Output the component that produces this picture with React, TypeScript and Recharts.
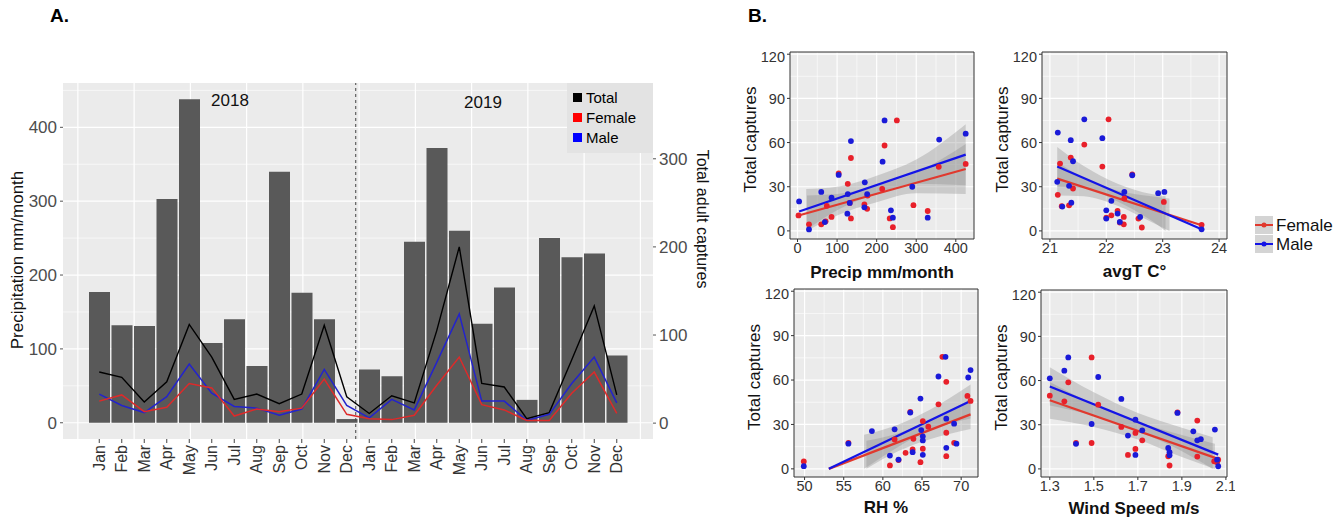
import {
  Area,
  Bar,
  CartesianGrid,
  ComposedChart,
  Line,
  ReferenceArea,
  ReferenceLine,
  Scatter,
  XAxis,
  YAxis,
} from 'recharts'

// ---------- panel A data ----------
const months = ['Jan', 'Feb', 'Mar', 'Apr', 'May', 'Jun', 'Jul', 'Aug', 'Sep', 'Oct', 'Nov', 'Dec']
const years = ['2018', '2019']

const precip2018 = [177, 132, 131, 303, 438, 108, 140, 77, 340, 176, 140, 5]
const precip2019 = [72, 63, 245, 372, 260, 134, 183, 31, 250, 224, 229, 91]
const total2018 = [58, 52, 24, 47, 112, 75, 27, 33, 22, 33, 111, 30]
const total2019 = [11, 31, 23, 105, 200, 45, 41, 5, 12, 72, 133, 32]
const female2018 = [25, 32, 13, 18, 45, 40, 8, 16, 13, 17, 50, 10]
const female2019 = [5, 4, 9, 43, 75, 21, 15, 3, 3, 34, 58, 11]
const male2018 = [33, 20, 12, 30, 67, 34, 19, 17, 9, 16, 61, 20]
const male2019 = [6, 27, 15, 69, 124, 25, 25, 3, 10, 45, 75, 23]

const precipTicks = [0, 100, 200, 300, 400]
const precipMinor = [50, 150, 250, 350, 450]
const captureTicks = [0, 100, 200, 300]
// hidden index axis: vertical grid lines and the year break
const monthGridLines = [0.05, 2.55, 5.05, 7.55, 10.05, 12.55, 15.05, 17.55, 20.05, 22.55, 25.05]
const yearBreak = 12.4

const precipByYear = [precip2018, precip2019]
const totalByYear = [total2018, total2019]
const femaleByYear = [female2018, female2019]
const maleByYear = [male2018, male2019]

const monthRows = years.flatMap((yr, yi) =>
  months.map((m, mi) => ({
    key: `${m} ${yr}`,
    idx: yi * 12 + mi + 1,
    precip: precipByYear[yi][mi],
    total: totalByYear[yi][mi],
    female: femaleByYear[yi][mi],
    male: maleByYear[yi][mi],
  })),
)

// ---------- panel B data: [x, captures] ----------
const precipMale = [[4, 20], [29, 1], [60, 26.5], [69, 6], [86, 22.5], [104, 38], [126, 11.7], [127, 25], [135, 61], [132, 19], [170, 33], [176, 25], [169, 16], [215, 47], [220, 75], [236, 14], [241, 9], [290, 30], [329, 9], [358, 62], [425, 66]]
const precipFemale = [[2.5, 10.5], [29, 4.5], [60, 4.5], [71, 6.5], [86, 9.5], [74, 17], [104, 39], [127, 32], [132, 19], [135, 49.5], [135, 8.5], [169, 18], [176, 15], [177, 24], [220, 58], [214, 28.5], [233, 8.5], [241, 2.5], [251, 75], [293, 17.5], [329, 13.5], [357, 43.5], [425, 45.5]]
const precipMaleFit = [[4, 13.2], [425, 51.8]]
const precipFemaleFit = [[2.5, 10.5], [425, 42]]
const precipMaleBand = [[22, 0.5, 28.5], [100, 14, 30], [200, 25, 37.5], [300, 32, 48.5], [425, 31, 72.5]]
const precipFemaleBand = [[24, 0, 24], [100, 10.5, 25], [200, 19.5, 31], [300, 25.5, 39.7], [425, 25, 59]]

const tempMale = [[21.14, 66.8], [21.13, 33.3], [21.22, 16.5], [21.37, 61.6], [21.38, 19.2], [21.41, 47.3], [21.34, 30.6], [21.61, 75.8], [21.93, 63], [22.0, 14], [22.0, 8.4], [22.09, 20.4], [22.2, 11.8], [22.24, 6.1], [22.32, 26.5], [22.46, 37.8], [22.6, 9.5], [22.92, 25.6], [23.03, 26.5], [23.69, 1.1]]
const tempFemale = [[21.14, 24.5], [21.18, 45.7], [21.21, 16.8], [21.34, 17.4], [21.37, 49.8], [21.41, 28.8], [21.61, 58.6], [21.93, 43.7], [22.04, 75.8], [22.0, 9], [22.09, 10.6], [22.2, 13.6], [22.24, 5.7], [22.31, 9.5], [22.31, 4.5], [22.46, 38.3], [22.57, 8.4], [22.63, 2.3], [23.02, 19.7], [23.69, 4.1], [22.32, 22]]
const tempMaleFit = [[21.13, 43.7], [23.69, 1.1]]
const tempFemaleFit = [[21.13, 35.5], [23.69, 3.8]]
const tempMaleBand = [[21.13, 30, 57], [21.6, 29, 44], [22.2, 20, 32], [22.8, 7, 25], [23.05, 0, 23.5]]
const tempFemaleBand = [[21.13, 24, 47], [21.6, 23.5, 36], [22.2, 17, 27.5], [22.8, 6, 23.5], [23.12, 0, 22]]

const rhMale = [[49.9, 1.8], [55.6, 17], [58.6, 25.5], [60.9, 9], [61.5, 26.7], [62, 6.3], [63.5, 38], [63.8, 11.3], [64.8, 47.5], [64.9, 26.2], [65.1, 22], [65.1, 19.2], [65.1, 9.5], [67.1, 62.4], [68, 75.7], [68.1, 14.2], [68.1, 33.9], [69.1, 30.5], [69.4, 17], [70.9, 61.7], [71.2, 66.7]]
const rhFemale = [[49.9, 5], [55.6, 17.6], [60.9, 2.3], [62, 5.9], [62.9, 10.8], [63.5, 38.4], [63.8, 13.1], [64.8, 4.5], [65.1, 13.6], [65.1, 32.3], [65.8, 28.5], [67.1, 43.6], [67.6, 75.7], [68.1, 58.8], [68.1, 24.4], [68.1, 8.6], [69.1, 17.6], [70.8, 49.3], [71.2, 45.9], [61.5, 19.9], [63.9, 20.3]]
const rhMaleFit = [[53.1, 0], [71.2, 45.9]]
const rhFemaleFit = [[53.1, 0], [71.2, 36.8]]
const rhMaleBand = [[57.6, 0, 23], [62, 15, 30], [66, 26, 40], [71.2, 34, 57]]
const rhFemaleBand = [[57.9, 0, 19], [62, 12, 24], [66, 20, 33], [71.2, 27, 47]]

const windMale = [[1.3, 61.5], [1.366, 66.7], [1.384, 75.7], [1.419, 17], [1.52, 62.4], [1.49, 30.5], [1.625, 47.5], [1.655, 22.6], [1.689, 33.4], [1.689, 9.5], [1.72, 26.2], [1.838, 14.2], [1.844, 11.3], [1.844, 9.3], [1.88, 38], [1.952, 25.5], [1.97, 19.4], [1.986, 20.2], [2.05, 26.7], [2.06, 6.3], [2.065, 1.8]]
const windFemale = [[1.3, 49.7], [1.366, 45.9], [1.384, 58.8], [1.419, 17.6], [1.49, 75.7], [1.49, 17.6], [1.52, 43.6], [1.625, 28.5], [1.655, 9.5], [1.689, 13.6], [1.689, 24.4], [1.72, 19.4], [1.838, 8.6], [1.844, 2.3], [1.88, 38.4], [1.97, 32.8], [1.97, 8.4], [2.047, 5.2], [2.06, 4.5], [2.065, 6.3]]
const windMaleFit = [[1.3, 56], [2.065, 9.7]]
const windFemaleFit = [[1.3, 46.6], [2.065, 6.8]]
const windMaleBand = [[1.3, 43, 69], [1.5, 36, 52], [1.7, 25.5, 38], [1.9, 12, 28], [2.04, 0, 21.5]]
const windFemaleBand = [[1.3, 34, 59], [1.5, 28.5, 44], [1.7, 20, 32], [1.9, 8, 23], [2.05, 0, 17]]

const yCapTicks = [0, 30, 60, 90, 120]
const yCapMinor = [15, 45, 75, 105]

const FONT = '"Liberation Sans", Arial, Helvetica, sans-serif'
const RED = '#e8202a'
const BLUE = '#1a1ad8'
const RED_LINE = '#e0392e'
const BLUE_LINE = '#1414e6'

const toPts = (arr: number[][]) => arr.map(([x, y]) => ({ x, y }))
const toBand = (arr: number[][]) => arr.map(([x, lo, hi]) => ({ x, band: [lo, hi] }))

function MonthTick(props: any) {
  const { x, y, payload } = props
  return (
    <text
      x={x}
      y={y}
      transform={`rotate(-90 ${x} ${y})`}
      textAnchor="end"
      dominantBaseline="central"
      fontSize={16}
      fill="#333"
    >
      {String(payload.value).split(' ')[0]}
    </text>
  )
}

function PanelA() {
  return (
    <div style={{ position: 'absolute', left: 0, top: 0 }}>
      <ComposedChart width={720} height={519} data={monthRows} margin={{ top: 83, right: 0, bottom: 0, left: 0 }}>
        <CartesianGrid
          xAxisId="num"
          yAxisId="left"
          fill="#EBEBEB"
          stroke="#ffffff"
          strokeWidth={0.6}
          vertical={false}
          horizontalValues={precipMinor}
        />
        <CartesianGrid
          xAxisId="num"
          yAxisId="left"
          stroke="#ffffff"
          strokeWidth={1.2}
          horizontalValues={precipTicks}
          verticalValues={monthGridLines}
        />
        <XAxis
          xAxisId="cat"
          dataKey="key"
          type="category"
          padding={{ left: 25, right: 25 }}
          height={80}
          interval={0}
          tickSize={4}
          tickMargin={2}
          axisLine={false}
          tickLine={{ stroke: '#444' }}
          tick={<MonthTick />}
        />
        <XAxis xAxisId="num" dataKey="idx" type="number" domain={[-0.611, 25.611]} allowDataOverflow hide />
        <YAxis
          yAxisId="left"
          domain={[-22, 460]}
          ticks={precipTicks}
          allowDataOverflow
          width={63}
          tickSize={3}
          tickMargin={3}
          axisLine={false}
          tickLine={{ stroke: '#555' }}
          tick={{ fontSize: 17, fill: '#4d4d4d' }}
        />
        <YAxis
          yAxisId="right"
          orientation="right"
          domain={[-18, 386]}
          ticks={captureTicks}
          allowDataOverflow
          width={67}
          tickSize={3}
          tickMargin={3}
          axisLine={false}
          tickLine={{ stroke: '#555' }}
          tick={{ fontSize: 17, fill: '#4d4d4d' }}
        />
        <Bar xAxisId="cat" yAxisId="left" dataKey="precip" fill="#595959" barSize={21} isAnimationActive={false} />
        <ReferenceLine xAxisId="num" yAxisId="left" x={yearBreak} stroke="#444" strokeDasharray="3 3" />
        <Line xAxisId="cat" yAxisId="right" type="linear" dataKey="total" stroke="#000" strokeWidth={1.4} dot={false} isAnimationActive={false} />
        <Line xAxisId="cat" yAxisId="right" type="linear" dataKey="male" stroke="#2323cc" strokeWidth={1.5} dot={false} isAnimationActive={false} />
        <Line xAxisId="cat" yAxisId="right" type="linear" dataKey="female" stroke="#dd2a2a" strokeWidth={1.5} dot={false} isAnimationActive={false} />
      </ComposedChart>
    </div>
  )
}

interface PanelProps {
  x: number
  y: number
  w: number
  h: number
  xDomain: [number, number]
  xTicks: number[]
  xMinor: number[]
  female: number[][]
  male: number[][]
  femaleFit: number[][]
  maleFit: number[][]
  femaleBand: number[][]
  maleBand: number[][]
}

const dot = (color: string) => (props: any) => <circle cx={props.cx} cy={props.cy} r={2.9} fill={color} />

function ScatterPanel(p: PanelProps) {
  const yDomain: [number, number] = [-5.5, 121.5]
  return (
    <div style={{ position: 'absolute', left: p.x - 60, top: p.y - 4 }}>
      <ComposedChart width={p.w + 68} height={p.h + 44} margin={{ top: 4, right: 8, bottom: 0, left: 0 }}>
        <CartesianGrid fill="#EBEBEB" stroke="#ffffff" strokeWidth={0.6} horizontalValues={yCapMinor} verticalValues={p.xMinor} />
        <CartesianGrid stroke="#ffffff" strokeWidth={1.2} horizontalValues={yCapTicks} verticalValues={p.xTicks} />
        <XAxis
          type="number"
          dataKey="x"
          domain={p.xDomain}
          ticks={p.xTicks}
          allowDataOverflow
          height={40}
          tickSize={3}
          tickMargin={1}
          axisLine={false}
          tickLine={{ stroke: '#333' }}
          tick={{ fontSize: 14.5, fill: '#333' }}
        />
        <YAxis
          type="number"
          dataKey="y"
          domain={yDomain}
          ticks={yCapTicks}
          allowDataOverflow
          width={60}
          tickSize={3}
          tickMargin={2}
          axisLine={false}
          tickLine={{ stroke: '#333' }}
          tick={{ fontSize: 14.5, fill: '#333' }}
        />
        <Scatter data={toPts(p.female)} shape={dot(RED)} isAnimationActive={false} />
        <Scatter data={toPts(p.male)} shape={dot(BLUE)} isAnimationActive={false} />
        <Area data={toBand(p.femaleBand)} dataKey="band" type="monotone" stroke="none" fill="#8c8c8c" fillOpacity={0.35} isAnimationActive={false} />
        <Line data={toPts(p.femaleFit)} dataKey="y" stroke={RED_LINE} strokeWidth={2.2} dot={false} isAnimationActive={false} />
        <Area data={toBand(p.maleBand)} dataKey="band" type="monotone" stroke="none" fill="#8c8c8c" fillOpacity={0.35} isAnimationActive={false} />
        <Line data={toPts(p.maleFit)} dataKey="y" stroke={BLUE_LINE} strokeWidth={2.2} dot={false} isAnimationActive={false} />
        <ReferenceArea
          x1={p.xDomain[0]}
          x2={p.xDomain[1]}
          y1={yDomain[0]}
          y2={yDomain[1]}
          fill="none"
          stroke="#333"
          strokeWidth={1}
          ifOverflow="visible"
        />
      </ComposedChart>
    </div>
  )
}

const panels: (PanelProps & { title: string; titleY: number })[] = [
  { x: 790, y: 52, w: 184, h: 187, xDomain: [-19, 446], xTicks: [0, 100, 200, 300, 400], xMinor: [50, 150, 250, 350], female: precipFemale, male: precipMale, femaleFit: precipFemaleFit, maleFit: precipMaleFit, femaleBand: precipFemaleBand, maleBand: precipMaleBand, title: 'Precip mm/month', titleY: 272 },
  { x: 1042, y: 52, w: 185, h: 187, xDomain: [20.86, 24.14], xTicks: [21, 22, 23, 24], xMinor: [21.5, 22.5, 23.5], female: tempFemale, male: tempMale, femaleFit: tempFemaleFit, maleFit: tempMaleFit, femaleBand: tempFemaleBand, maleBand: tempMaleBand, title: 'avgT C°', titleY: 271 },
  { x: 794, y: 289, w: 184, h: 188, xDomain: [48.65, 72.15], xTicks: [50, 55, 60, 65, 70], xMinor: [52.5, 57.5, 62.5, 67.5], female: rhFemale, male: rhMale, femaleFit: rhFemaleFit, maleFit: rhMaleFit, femaleBand: rhFemaleBand, maleBand: rhMaleBand, title: 'RH %', titleY: 507 },
  { x: 1041, y: 290, w: 186, h: 187, xDomain: [1.26, 2.105], xTicks: [1.3, 1.5, 1.7, 1.9, 2.1], xMinor: [1.4, 1.6, 1.8, 2.0], female: windFemale, male: windMale, femaleFit: windFemaleFit, maleFit: windMaleFit, femaleBand: windFemaleBand, maleBand: windMaleBand, title: 'Wind Speed  m/s', titleY: 508 },
]

const legendA = [
  { name: 'Total', color: '#000000' },
  { name: 'Female', color: '#ff0000' },
  { name: 'Male', color: '#0000ff' },
]
const legendB = [
  { name: 'Female', color: RED_LINE },
  { name: 'Male', color: BLUE_LINE },
]

function Overlay() {
  return (
    <svg width={1338} height={519} style={{ position: 'absolute', left: 0, top: 0, pointerEvents: 'none' }}>
      <text x={50} y={22} fontSize={19} fontWeight="bold" fill="#000">A.</text>
      <text x={748} y={22} fontSize={19} fontWeight="bold" fill="#000">B.</text>

      <text x={17} y={260} fontSize={17} fill="#111" textAnchor="middle" dominantBaseline="central" transform="rotate(-90 17 260)">
        Precipitation mm/month
      </text>
      <text x={702} y={219} fontSize={16} fill="#111" textAnchor="middle" dominantBaseline="central" transform="rotate(90 702 219)">
        Total adult captures
      </text>
      <text x={230} y={100} fontSize={17} fill="#111" textAnchor="middle" dominantBaseline="central">{years[0]}</text>
      <text x={483} y={102} fontSize={17} fill="#111" textAnchor="middle" dominantBaseline="central">{years[1]}</text>

      <rect x={567} y={83} width={86} height={70} fill="#E3E3E3" />
      {legendA.map((d, i) => (
        <g key={d.name}>
          <rect x={573} y={93 + i * 20} width={9} height={9} fill={d.color} />
          <text x={586} y={97.5 + i * 20} fontSize={15} fill="#000" dominantBaseline="central">{d.name}</text>
        </g>
      ))}

      {panels.map((p) => (
        <g key={p.title}>
          <text
            x={p.x - 40}
            y={p.y + p.h / 2 - 6}
            fontSize={17}
            fill="#111"
            textAnchor="middle"
            dominantBaseline="central"
            transform={`rotate(-90 ${p.x - 40} ${p.y + p.h / 2 - 6})`}
          >
            Total captures
          </text>
          <text x={p.x + p.w / 2} y={p.titleY} fontSize={17} fontWeight="bold" fill="#111" textAnchor="middle" dominantBaseline="central">
            {p.title}
          </text>
        </g>
      ))}

      {legendB.map((d, i) => (
        <g key={d.name}>
          <rect x={1255} y={216 + i * 19} width={18} height={18} fill="#d4d4d4" />
          <line x1={1255} x2={1273} y1={225 + i * 19} y2={225 + i * 19} stroke={d.color} strokeWidth={2} />
          <circle cx={1264} cy={225 + i * 19} r={2.5} fill={d.color} />
          <text x={1276} y={225 + i * 19} fontSize={17} fill="#111" dominantBaseline="central">{d.name}</text>
        </g>
      ))}
    </svg>
  )
}

export default function App() {
  return (
    <div style={{ position: 'absolute', left: 0, top: 0, width: 1338, height: 519, background: '#fff', fontFamily: FONT }}>
      <PanelA />
      {panels.map(({ title, titleY, ...p }) => (
        <ScatterPanel key={title} {...p} />
      ))}
      <Overlay />
    </div>
  )
}
